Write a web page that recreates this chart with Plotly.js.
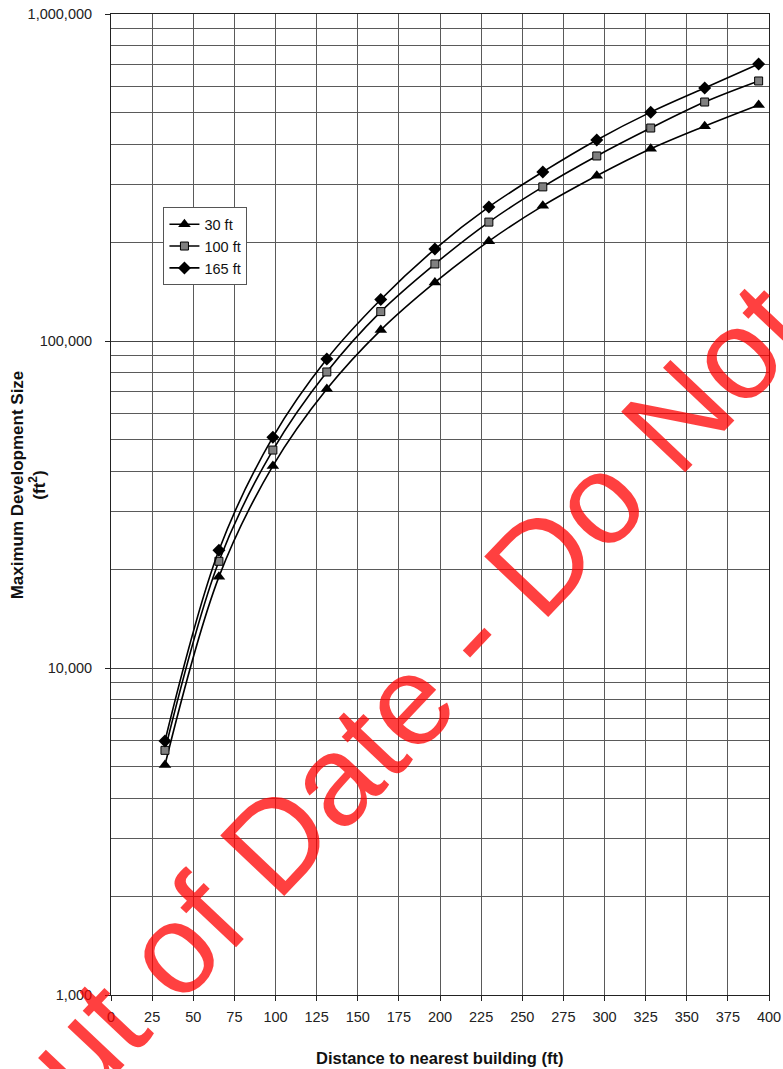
<!DOCTYPE html>
<html>
<head>
<meta charset="utf-8">
<script src="https://cdn.plot.ly/plotly-3.0.1.min.js"></script>
<style>
html,body{margin:0;padding:0;background:#fff;overflow:hidden;}
#chart{width:783px;height:1069px;}
</style>
</head>
<body>
<div id="chart"></div>
<script>
// Distance to nearest building (ft)
var distance = [32.8, 65.6, 98.4, 131.2, 164.0, 196.9, 229.7, 262.5, 295.3, 328.1, 360.9, 393.7];
// Maximum development size (ft^2) by building height
var size30  = [5050, 19000, 41500, 71300, 108000, 151000, 202000, 259000, 320000, 387000, 454000, 527000];
var size100 = [5600, 21200, 46400, 80400, 123000, 172000, 231000, 296000, 368000, 448000, 538000, 624000];
var size165 = [5980, 22900, 50800, 88100, 134000, 191000, 257000, 329000, 412000, 501000, 594000, 703000];
var seriesNames = ["30 ft", "100 ft", "165 ft"];
var xTickVals = [0, 25, 50, 75, 100, 125, 150, 175, 200, 225, 250, 275, 300, 325, 350, 375, 400];
var yTickVals = [1000, 10000, 100000, 1000000];
var yTickText = ["1,000", "10,000", "100,000", "1,000,000"];

var FONT = "Liberation Sans, Arial, sans-serif";
var lineStyle = {color: "#000", width: 1.6, shape: "spline", smoothing: 1};

var traces = [
  {x: distance, y: size30, name: seriesNames[0], type: "scatter", mode: "lines+markers",
   line: lineStyle, marker: {symbol: "triangle-up", size: 11, color: "#000"}},
  {x: distance, y: size100, name: seriesNames[1], type: "scatter", mode: "lines+markers",
   line: lineStyle, marker: {symbol: "square", size: 8, color: "#808080", line: {color: "#000", width: 1}}},
  {x: distance, y: size165, name: seriesNames[2], type: "scatter", mode: "lines+markers",
   line: lineStyle, marker: {symbol: "diamond", size: 10, color: "#000"}}
];

var layout = {
  width: 783, height: 1069,
  margin: {l: 110.5, r: 14, t: 14, b: 74, pad: 0},
  paper_bgcolor: "#fff", plot_bgcolor: "#fff",
  font: {family: FONT, size: 14.5, color: "#222"},
  showlegend: true,
  legend: {x: 0.0797, y: 0.803, xanchor: "left", yanchor: "top",
           bgcolor: "#fff", bordercolor: "#555", borderwidth: 1,
           font: {family: FONT, size: 14.5, color: "#111"}, tracegroupgap: 0},
  xaxis: {
    range: [0, 400], tickmode: "array", tickvals: xTickVals,
    showgrid: true, gridcolor: "#5a5a5a", gridwidth: 1,
    showline: true, linecolor: "#222", linewidth: 1, mirror: true,
    ticks: "outside", ticklen: 5, tickcolor: "#222",
    ticklabelstandoff: 4, zeroline: false,
    tickfont: {family: FONT, size: 14.5, color: "#222"}
  },
  yaxis: {
    type: "log", range: [3, 6], tickmode: "array", tickvals: yTickVals, ticktext: yTickText,
    showgrid: true, gridcolor: "#444", gridwidth: 1,
    minor: {dtick: "D1", showgrid: true, gridcolor: "#5a5a5a", gridwidth: 1, ticks: ""},
    showline: true, linecolor: "#222", linewidth: 1, mirror: true,
    ticks: "outside", ticklen: 5, tickcolor: "#222",
    ticklabelstandoff: 10, zeroline: false,
    tickfont: {family: FONT, size: 14.5, color: "#222"}
  },
  annotations: [
    {text: "<b>Distance to nearest building (ft)</b>", xref: "paper", yref: "paper",
     x: 0.5, y: -0.064, xanchor: "center", yanchor: "middle", showarrow: false,
     font: {family: FONT, size: 16.5, color: "#111"}},
    {text: "<b>Maximum Development Size<br>(ft<sup>2</sup>)</b>", xref: "paper", yref: "paper",
     x: -0.1255, y: 0.52, xanchor: "center", yanchor: "middle", showarrow: false, textangle: -90,
     font: {family: FONT, size: 17, color: "#111"}},
    {text: "Out of Date - Do Not", xref: "paper", yref: "paper",
     x: 0.411, y: 0.272, xanchor: "center", yanchor: "middle", showarrow: false, textangle: -46.6,
     font: {family: FONT, size: 128, color: "rgba(255,0,0,0.75)"}}
  ]
};

Plotly.newPlot("chart", traces, layout, {displayModeBar: false, staticPlot: true});
</script>
</body>
</html>
